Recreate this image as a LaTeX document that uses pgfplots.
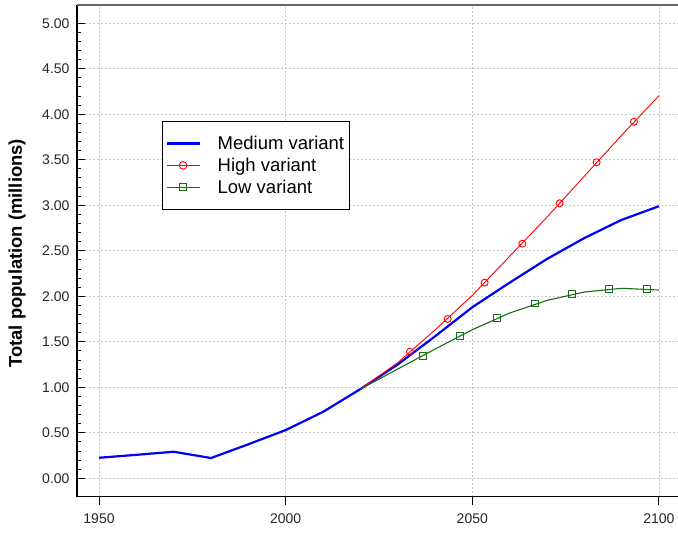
\documentclass[border=0pt]{standalone}
\usepackage{pgfplots}
\pgfplotsset{compat=1.18}
\usepackage{fontspec}
\setmainfont{Liberation Sans}
\definecolor{medblue}{RGB}{0,0,255}
\definecolor{highred}{RGB}{255,0,0}
\definecolor{lowgreen}{RGB}{20,110,20}
\definecolor{gridgray}{RGB}{200,200,200}
\begin{document}
\begin{tikzpicture}
\begin{axis}[
  scale only axis,
  width=601bp, height=491.7bp,
  xmin=1944.1, xmax=2105.1,
  ymin=-0.202, ymax=5.201,
  axis x line*=bottom, axis y line*=left,
  x axis line style={line width=1.4bp, black},
  y axis line style={line width=1.8bp, black},
  xtick={1950,2000,2050,2100},
  ytick={0,0.5,...,5},
  minor y tick num=4,
  xtick align=outside, ytick align=inside,
  major tick length=8.5bp, minor tick length=4.5bp,
  every tick/.style={black, line width=1bp},
  grid=major,
  major grid style={gridgray, line width=0.9bp, dash pattern=on 2bp off 2bp},
  /pgf/number format/assume math mode=true,
  tick label style={font=\fontsize{14bp}{16bp}\selectfont, text=black!85},
  xticklabel style={/pgf/number format/1000 sep={}, yshift=-5bp},
  yticklabel style={xshift=-4bp, /pgf/number format/.cd, fixed, fixed zerofill, precision=2},
  ylabel={\bfseries Total population (millions)},
  ylabel style={at={(axis description cs:-0.0998,0.495)}, anchor=center, rotate=0, font=\fontsize{18.4bp}{20bp}\selectfont},
  legend cell align=left,
  legend style={at={(axis description cs:0.1414,0.764)}, anchor=north west,
    draw=black, line width=1bp, font=\fontsize{18.5bp}{20bp}\selectfont,
    inner xsep=3bp, inner ysep=12.5bp, row sep=3bp,
    /tikz/every even column/.append style={column sep=5bp}},
  legend image code/.code={\draw[mark repeat=2,mark phase=2,#1] plot coordinates {(0bp,0bp)(16.5bp,0bp)(33bp,0bp)};\path (48bp,0bp);},
  extra description/.code={\draw[black!60, line width=1.3bp] (rel axis cs:0,1) -- (rel axis cs:1,1);},
]
\addlegendimage{medblue, line width=2.2bp}
\addlegendentry{Medium variant}
\addlegendimage{highred, line width=0.9bp, mark=o, mark size=3.8bp, mark options={solid}}
\addlegendentry{High variant}
\addlegendimage{lowgreen, line width=1.1bp, mark=square, mark size=3.5bp, mark options={solid}}
\addlegendentry{Low variant}

% Medium variant
\addplot[medblue, line width=2.2bp, forget plot] coordinates {
(1950,0.226)(1960,0.258)(1970,0.292)(1980,0.223)(1990,0.374)(2000,0.530)
(2010,0.730)(2020,0.980)(2030,1.250)(2040,1.560)(2050,1.880)(2060,2.150)
(2070,2.410)(2080,2.640)(2090,2.840)(2100,2.990)};

% High variant
\addplot[highred, line width=0.9bp, forget plot] coordinates {
(2020,0.980)(2030,1.270)(2040,1.630)(2050,2.010)(2060,2.440)(2070,2.870)
(2080,3.320)(2090,3.770)(2100,4.204)};
\addplot[highred, only marks, mark=o, mark size=3.5bp, line width=0.9bp, forget plot] coordinates {
(2033.3,1.391)(2043.4,1.751)(2053.3,2.150)(2063.4,2.578)(2073.4,3.022)
(2083.3,3.473)(2093.3,3.917)};

% Low variant
\addplot[lowgreen, line width=1.1bp, forget plot] coordinates {
(2020,0.980)(2030,1.200)(2040,1.420)(2050,1.633)(2060,1.816)(2070,1.955)
(2080,2.047)(2090,2.088)(2100,2.069)};
\addplot[lowgreen, only marks, mark=square, mark size=3.4bp, line width=1bp, forget plot] coordinates {
(2036.7,1.348)(2046.7,1.567)(2056.7,1.763)(2066.7,1.921)(2076.7,2.029)
(2086.7,2.084)(2096.7,2.080)};
\end{axis}
\pgfresetboundingbox
\path[use as bounding box] (-77bp,-38.3bp) rectangle (601bp,496.7bp);
\end{tikzpicture}
\end{document}
